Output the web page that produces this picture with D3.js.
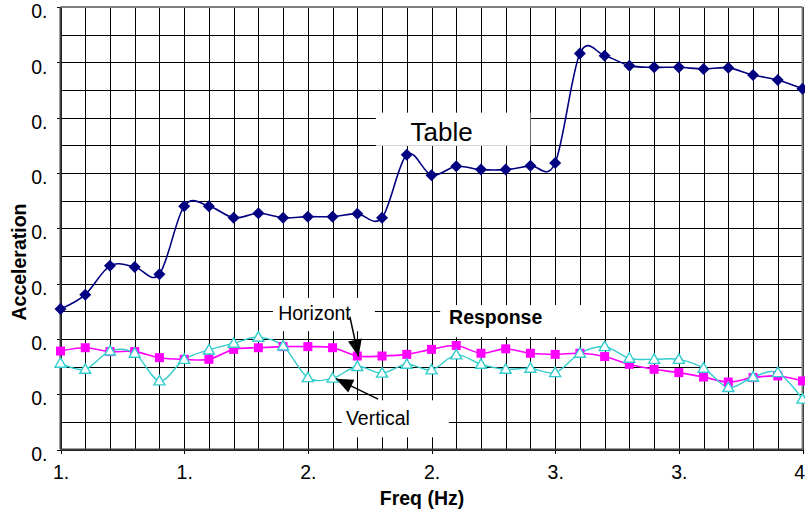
<!DOCTYPE html>
<html>
<head>
<meta charset="utf-8">
<style>
    body { margin: 0; background: #fff; }
    svg { display: block; font-family: Arial, "Liberation Sans", sans-serif; }
    .grid line { stroke: #000; stroke-width: 1; shape-rendering: crispEdges; }
    .grid .domain { display: none; }
    .ticks line { stroke: #000; shape-rendering: crispEdges; }
    .ticks .domain { display: none; }
    .ticks text { font-size: 19.5px; fill: #000; }
    .axis-title { font-size: 19.5px; font-weight: bold; }
    .note { font-size: 19.5px; }
</style>
</head>
<body>
<svg width="805" height="514"></svg>
<script src="https://cdn.jsdelivr.net/npm/d3@7"></script>
<script>
    // frequency steps (Hz)
    const freq = [1.0, 1.1, 1.2, 1.3, 1.4, 1.5, 1.6, 1.7, 1.8, 1.9,
                  2.0, 2.1, 2.2, 2.3, 2.4, 2.5, 2.6, 2.7, 2.8, 2.9,
                  3.0, 3.1, 3.2, 3.3, 3.4, 3.5, 3.6, 3.7, 3.8, 3.9, 4.0]

    const table = [0.254, 0.280, 0.332, 0.330, 0.317, 0.440, 0.440, 0.419, 0.427, 0.419,
                   0.421, 0.421, 0.426, 0.419, 0.533, 0.496, 0.512, 0.506, 0.506, 0.513,
                   0.518, 0.716, 0.712, 0.694, 0.691, 0.691, 0.688, 0.690, 0.677, 0.668, 0.652]

    const horizontal = [0.178, 0.184, 0.177, 0.177, 0.166, 0.163, 0.163, 0.181, 0.184, 0.186,
                        0.186, 0.184, 0.169, 0.169, 0.172, 0.181, 0.188, 0.174, 0.182, 0.174,
                        0.172, 0.174, 0.168, 0.154, 0.145, 0.139, 0.131, 0.122, 0.130, 0.133, 0.124]

    const vertical = [0.156, 0.145, 0.178, 0.174, 0.124, 0.163, 0.180, 0.192, 0.203, 0.187,
                      0.130, 0.129, 0.150, 0.138, 0.154, 0.144, 0.171, 0.154, 0.145, 0.147,
                      0.139, 0.174, 0.186, 0.165, 0.163, 0.163, 0.147, 0.112, 0.131, 0.139, 0.091]

    // axis ticks (labels are cut short like in the original)
    const xMajor = [1.0, 1.5, 2.0, 2.5, 3.0, 3.5, 4.0]
    const xLabels = ["1.", "1.", "2.", "2.", "3.", "3.", "4"]
    const yMajor = [0, 0.1, 0.2, 0.3, 0.4, 0.5, 0.6, 0.7, 0.8]
    const yLabels = ["0.", "0.", "0.", "0.", "0.", "0.", "0.", "0.", "0."]
    const yGrid = [0, 0.05, 0.1, 0.15, 0.2, 0.25, 0.3, 0.35, 0.4,
                   0.45, 0.5, 0.55, 0.6, 0.65, 0.7, 0.75, 0.8]

    let margin = { top: 7, right: 2.5, bottom: 64.5, left: 60.5 }
    let width = 805, height = 514
    let innerW = width - margin.left - margin.right
    let innerH = height - margin.top - margin.bottom

    let svg = d3.select("svg")

    let g = svg.append("g").attr("transform", `translate(${margin.left},${margin.top})`)

    let x = d3.scaleLinear().domain([1, 4]).range([0, innerW])
    let y = d3.scaleLinear().domain([0, 0.8]).range([innerH, 0])

    // grid
    g.append("g").attr("class", "grid")
        .call(d3.axisLeft(y).tickValues(yGrid).tickSize(-innerW).tickFormat(""))
    g.append("g").attr("class", "grid")
        .attr("transform", `translate(0,${innerH})`)
        .call(d3.axisBottom(x).tickValues(freq).tickSize(innerH).tickFormat(""))
        .call(s => s.selectAll(".tick line").attr("y2", -innerH))

    // major ticks and labels
    g.append("g").attr("class", "ticks")
        .call(d3.axisLeft(y).tickValues(yMajor).tickSize(4).tickPadding(9)
            .tickFormat((d, i) => yLabels[i]))
        .call(s => s.selectAll(".tick text").attr("dy", "0.55em"))
    g.append("g").attr("class", "ticks")
        .attr("transform", `translate(0,${innerH})`)
        .call(d3.axisBottom(x).tickValues(xMajor).tickSize(4).tickPadding(12)
            .tickFormat((d, i) => xLabels[i]))
        .call(s => s.selectAll(".tick text")
            .filter((d, i) => i == xMajor.length - 1)
            .attr("text-anchor", "end")
            .attr("x", 2))

    // frame
    g.append("line").attr("x1", 0).attr("x2", innerW).attr("y1", 0).attr("y2", 0)
        .attr("stroke", "#808080").attr("stroke-width", 2)
    g.append("line").attr("x1", innerW).attr("x2", innerW).attr("y1", 0).attr("y2", innerH)
        .attr("stroke", "#808080").attr("stroke-width", 2)
    g.append("line").attr("x1", 0).attr("x2", 0).attr("y1", 0).attr("y2", innerH)
        .attr("stroke", "#404040").attr("stroke-width", 2)
    g.append("line").attr("x1", 0).attr("x2", innerW).attr("y1", innerH).attr("y2", innerH)
        .attr("stroke", "#404040").attr("stroke-width", 2)

    // white text boxes (in data space)
    let boxes = [
        { text: "Table", x0: 2.275, x1: 2.90, y0: 0.609, y1: 0.549, tx: 2.415, ty: 0.557, size: 26, bold: false },
        { text: "Horizont", x0: 1.859, x1: 2.271, y0: 0.274, y1: 0.214, tx: 1.880, ty: 0.235, size: 19.5, bold: false },
        { text: "Response", x0: 2.535, x1: 3.181, y0: 0.261, y1: 0.203, tx: 2.571, ty: 0.226, size: 19.5, bold: true },
        { text: "Vertical", x0: 2.137, x1: 2.570, y0: 0.089, y1: 0.022, tx: 2.154, ty: 0.044, size: 19.5, bold: false }
    ]
    boxes.forEach(b => {
        g.append("rect")
            .attr("x", x(b.x0)).attr("y", y(b.y0))
            .attr("width", x(b.x1) - x(b.x0)).attr("height", y(b.y1) - y(b.y0))
            .attr("fill", "#fff")
        g.append("text").attr("class", "note")
            .attr("x", x(b.tx)).attr("y", y(b.ty))
            .style("font-size", b.size + "px")
            .style("font-weight", b.bold ? "bold" : "normal")
            .text(b.text)
    })

    // series
    let line = d3.line()
        .x((d, i) => x(freq[i]))
        .y(d => y(d))
        .curve(d3.curveCatmullRom.alpha(0))

    g.append("path").datum(table)
        .attr("fill", "none").attr("stroke", "#000080").attr("stroke-width", 1.6)
        .attr("d", line)
    g.append("path").datum(horizontal)
        .attr("fill", "none").attr("stroke", "#FF00FF").attr("stroke-width", 1.6)
        .attr("d", line)
    g.append("path").datum(vertical)
        .attr("fill", "none").attr("stroke", "#33CCCC").attr("stroke-width", 1.4)
        .attr("d", line)

    g.append("g").selectAll("path")
        .data(table).join("path")
        .attr("d", "M0,-6 L6,0 L0,6 L-6,0 Z")
        .attr("transform", (d, i) => `translate(${x(freq[i])},${y(d)})`)
        .attr("fill", "#000080")

    g.append("g").selectAll("rect")
        .data(horizontal).join("rect")
        .attr("x", (d, i) => x(freq[i]) - 4.5).attr("y", d => y(d) - 4.5)
        .attr("width", 9).attr("height", 9)
        .attr("fill", "#FF00FF")

    g.append("g").selectAll("path")
        .data(vertical).join("path")
        .attr("d", "M0,-5.5 L5.5,4 L-5.5,4 Z")
        .attr("transform", (d, i) => `translate(${x(freq[i])},${y(d)})`)
        .attr("fill", "#fff").attr("stroke", "#33CCCC").attr("stroke-width", 1.4)

    // arrows: line plus a filled head drawn at the tip
    let arrows = [
        { x1: 2.170, y1: 0.240, x2: 2.205, y2: 0.168 },
        { x1: 2.284, y1: 0.091, x2: 2.114, y2: 0.128 }
    ]
    arrows.forEach(a => {
        let px1 = x(a.x1), py1 = y(a.y1), px2 = x(a.x2), py2 = y(a.y2)
        let ang = Math.atan2(py2 - py1, px2 - px1) * 180 / Math.PI
        g.append("line")
            .attr("x1", px1).attr("y1", py1)
            .attr("x2", px2).attr("y2", py2)
            .attr("stroke", "#000").attr("stroke-width", 1.5)
        g.append("path")
            .attr("d", "M0,0 L-17,-7 L-17,7 Z")
            .attr("transform", `translate(${px2},${py2}) rotate(${ang})`)
            .attr("fill", "#000")
    })

    // axis titles
    svg.append("text").attr("class", "axis-title")
        .attr("transform", "translate(26,262) rotate(-90)")
        .attr("text-anchor", "middle")
        .text("Acceleration")
    svg.append("text").attr("class", "axis-title")
        .attr("x", 422).attr("y", 505)
        .attr("text-anchor", "middle")
        .text("Freq (Hz)")
</script>
</body>
</html>
